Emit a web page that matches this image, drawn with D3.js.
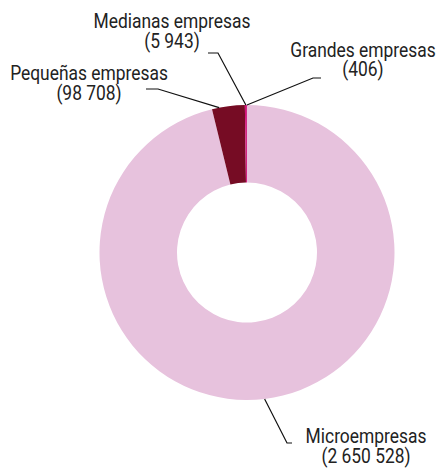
<!DOCTYPE html>
<html>
<head>
<meta charset="utf-8">
<script src="https://cdn.jsdelivr.net/npm/d3@7"></script>
<style>
  body { margin: 0; background: #fff; }
  text { font-family: Roboto, "Liberation Sans", sans-serif; font-size: 20px; fill: #222; }
</style>
</head>
<body>
<svg id="chart" width="441" height="468"></svg>
<script>
// data
var categories = ["Microempresas", "Pequeñas empresas", "Medianas empresas", "Grandes empresas"];
var values = [2650528, 98708, 5943, 406];
var valueLabels = ["(2 650 528)", "(98 708)", "(5 943)", "(406)"];
var colors = ["#e7c2dd", "#760c24", "#d4117a", "#a4004f"];

var svg = d3.select("#chart");
var cx = 247, cy = 252.5, outerR = 147.5, innerR = 70;

var g = svg.append("g").attr("transform", "translate(" + cx + "," + cy + ")");

var pie = d3.pie().sort(null).value(function(d) { return d; });
var arcs = pie(values);
var arc = d3.arc().innerRadius(innerR).outerRadius(outerR);

g.selectAll("path")
    .data(arcs)
    .enter().append("path")
    .attr("d", arc)
    .attr("fill", function(d, i) { return colors[i]; });

// label layout: where on the slice the leader starts, elbow, end and text spot
var layout = [
    {frac: 0.5, elbow: [287, 443], end: [292, 443], tx: 366, ty: 443},
    {frac: 0.22, elbow: [158, 89], end: [146, 89], tx: 89, ty: 80},
    {frac: 0.5, elbow: [218, 53], end: [208, 53], tx: 172, ty: 28},
    {frac: 0.5, elbow: [313, 78], end: [321, 78], tx: 363, ty: 56.5}
];

var line = d3.line();
var squeeze = 0.87; // the original uses a condensed face

arcs.forEach(function(a, i) {
    var L = layout[i];
    var ang = a.startAngle + L.frac * (a.endAngle - a.startAngle);
    var p0 = [cx + outerR * Math.sin(ang), cy - outerR * Math.cos(ang)];
    svg.append("path")
        .attr("d", line([p0, L.elbow, L.end]))
        .attr("fill", "none")
        .attr("stroke", "#111")
        .attr("stroke-width", 1.2);

    var t = svg.append("text")
        .attr("text-anchor", "middle")
        .attr("transform", "translate(" + L.tx + "," + L.ty + ") scale(" + squeeze + ",1)");
    t.append("tspan").attr("x", 0).text(categories[i]);
    t.append("tspan").attr("x", 0).attr("dy", 20).text(valueLabels[i]);
});
</script>
</body>
</html>
